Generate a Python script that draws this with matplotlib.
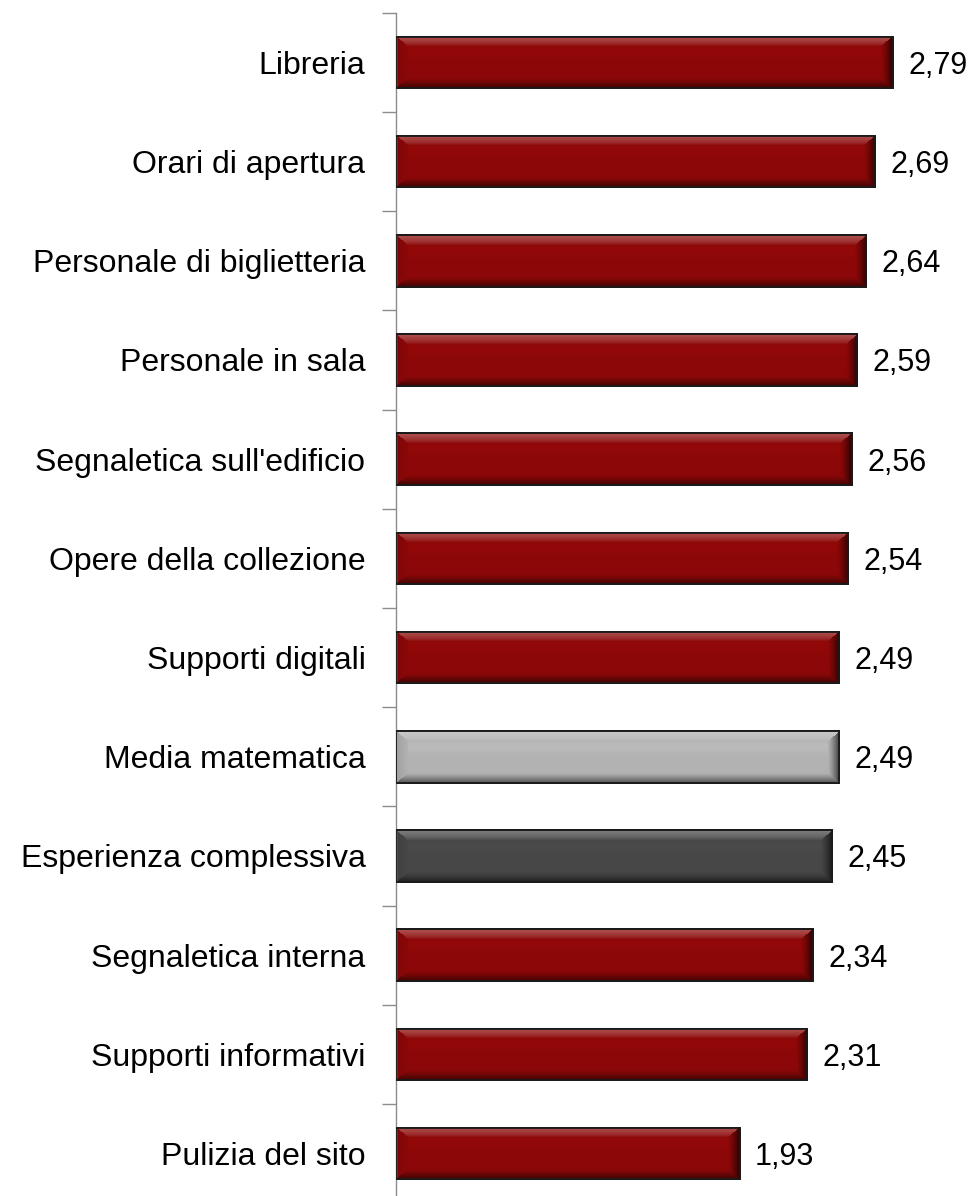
import numpy as np
import matplotlib
matplotlib.use("Agg")
import matplotlib.pyplot as plt
from matplotlib.colors import to_rgb

plt.rcParams['font.family'] = ['Liberation Sans', 'DejaVu Sans']

# Data (top to bottom)
categories = [
    "Libreria",
    "Orari di apertura",
    "Personale di biglietteria",
    "Personale in sala",
    "Segnaletica sull'edificio",
    "Opere della collezione",
    "Supporti digitali",
    "Media matematica",
    "Esperienza complessiva",
    "Segnaletica interna",
    "Supporti informativi",
    "Pulizia del sito",
]
values = [2.79, 2.69, 2.64, 2.59, 2.56, 2.54, 2.49, 2.49, 2.45, 2.34, 2.31, 1.93]
bar_colors = ["#8c0808"] * 7 + ["#b2b2b2", "#474747"] + ["#8c0808"] * 3

W, H, DPI = 976, 1196, 100
fig = plt.figure(figsize=(W / DPI, H / DPI), dpi=DPI)
fig.patch.set_facecolor("white")

ax_left = 396 / W
ax_top = 1 - 12.7 / H
ax_h = 1190.5 / H
ax = fig.add_axes([ax_left, ax_top - ax_h, 1 - ax_left, ax_h])

n = len(categories)
ypos = np.arange(n)[::-1]
bars = ax.barh(ypos, values, height=0.52, color=bar_colors,
               edgecolor="#151515", linewidth=1.3, zorder=2)

XMAX = (W - 396) / 178.1
ax.set_xlim(0, XMAX)
ax.set_ylim(-0.5, n - 0.5)

# Axis styling
for s in ["top", "right", "bottom"]:
    ax.spines[s].set_visible(False)
ax.spines["left"].set_color("#8c8c8c")
ax.spines["left"].set_linewidth(1.0)
ax.set_xticks([])
ax.set_yticks(ypos)
ax.set_yticklabels(categories, fontsize=23)
ax.tick_params(axis="y", which="major", length=0, pad=22)
ax.set_yticks(np.arange(n + 1) - 0.5, minor=True)
ax.tick_params(axis="y", which="minor", length=10, width=1.0, color="#8c8c8c")


def mix(a, b, t):
    return np.asarray(a)[..., :] * (1 - t[..., None]) + np.asarray(b) * t[..., None]


def bevel_image(color, wpx, hpx, bx=12.0, by=10.0):
    """Build an RGB image of a bevelled bar face."""
    base = np.array(to_rgb(color))
    white = np.ones(3)
    black = np.zeros(3)
    yy, xx = np.mgrid[0:hpx, 0:wpx].astype(float) + 0.5
    d_top = yy / by
    d_bot = (hpx - yy) / by
    d_left = xx / bx
    d_right = (wpx - xx) / bx
    stack = np.stack([d_top, d_bot, d_left, d_right])
    region = np.argmin(stack, axis=0)
    dmin = np.min(stack, axis=0)
    img = np.empty((hpx, wpx, 3))
    img[:] = base
    inside = dmin < 1
    ones = np.ones_like(dmin)

    # top bevel: dark rim, then a light band fading to the face colour
    m = inside & (region == 0)
    t = dmin[m]
    light = np.where(t < 0.12, 0.0, np.clip(0.28 * (1 - (t - 0.12) / 0.88) ** 0.6, 0, 1))
    c = base * (1 - light[:, None]) + white * light[:, None]
    dark = np.where(t < 0.12, 0.45, 0.0)
    img[m] = c * (1 - dark[:, None])

    # bottom bevel: darkening towards the edge
    m = inside & (region == 1)
    t = dmin[m]
    img[m] = base * (1 - 0.55 * (1 - t)[:, None] ** 1.2)

    # left bevel: slightly lighter
    m = inside & (region == 2)
    t = dmin[m]
    img[m] = base * (1 - 0.10 * (1 - t)[:, None]) + 0.0

    # right bevel: dark towards the edge
    m = inside & (region == 3)
    t = dmin[m]
    img[m] = base * (1 - 0.7 * (1 - t)[:, None] ** 1.3)

    # faint gloss on the face
    face = ~inside
    g = 1.0 + 0.05 * np.exp(-((yy / hpx - 0.3) / 0.12) ** 2)
    img[face] = np.clip(img[face] * g[face][:, None], 0, 1)
    return np.clip(img, 0, 1)


fig.canvas.draw()
for rect, col in zip(bars.patches, bar_colors):
    x0, y0 = rect.get_x(), rect.get_y()
    x1, y1 = x0 + rect.get_width(), y0 + rect.get_height()
    (px0, py0), (px1, py1) = ax.transData.transform([(x0, y0), (x1, y1)])
    wpx = max(int(round(px1 - px0)), 2)
    hpx = max(int(round(py1 - py0)), 2)
    img = bevel_image(col, wpx, hpx)
    im = ax.imshow(img, extent=(x0, x1, y0, y1), origin="upper",
                   aspect="auto", interpolation="bilinear", zorder=2.5)
    im.set_clip_path(rect)
    # outline on top of the face
    ax.add_patch(plt.Rectangle((x0, y0), x1 - x0, y1 - y0, fill=False,
                               edgecolor="#1a1a1a", linewidth=1.3, zorder=3))
    ax.annotate(f"{rect.get_width():.2f}".replace(".", ","),
                xy=(x1, (y0 + y1) / 2), xytext=(11, -8.3),
                textcoords="offset points", ha="left", va="baseline",
                fontsize=22, color="black")

ax.set_xlim(0, XMAX)
ax.set_ylim(-0.5, n - 0.5)

fig.savefig("out.png", dpi=DPI, facecolor="white")
